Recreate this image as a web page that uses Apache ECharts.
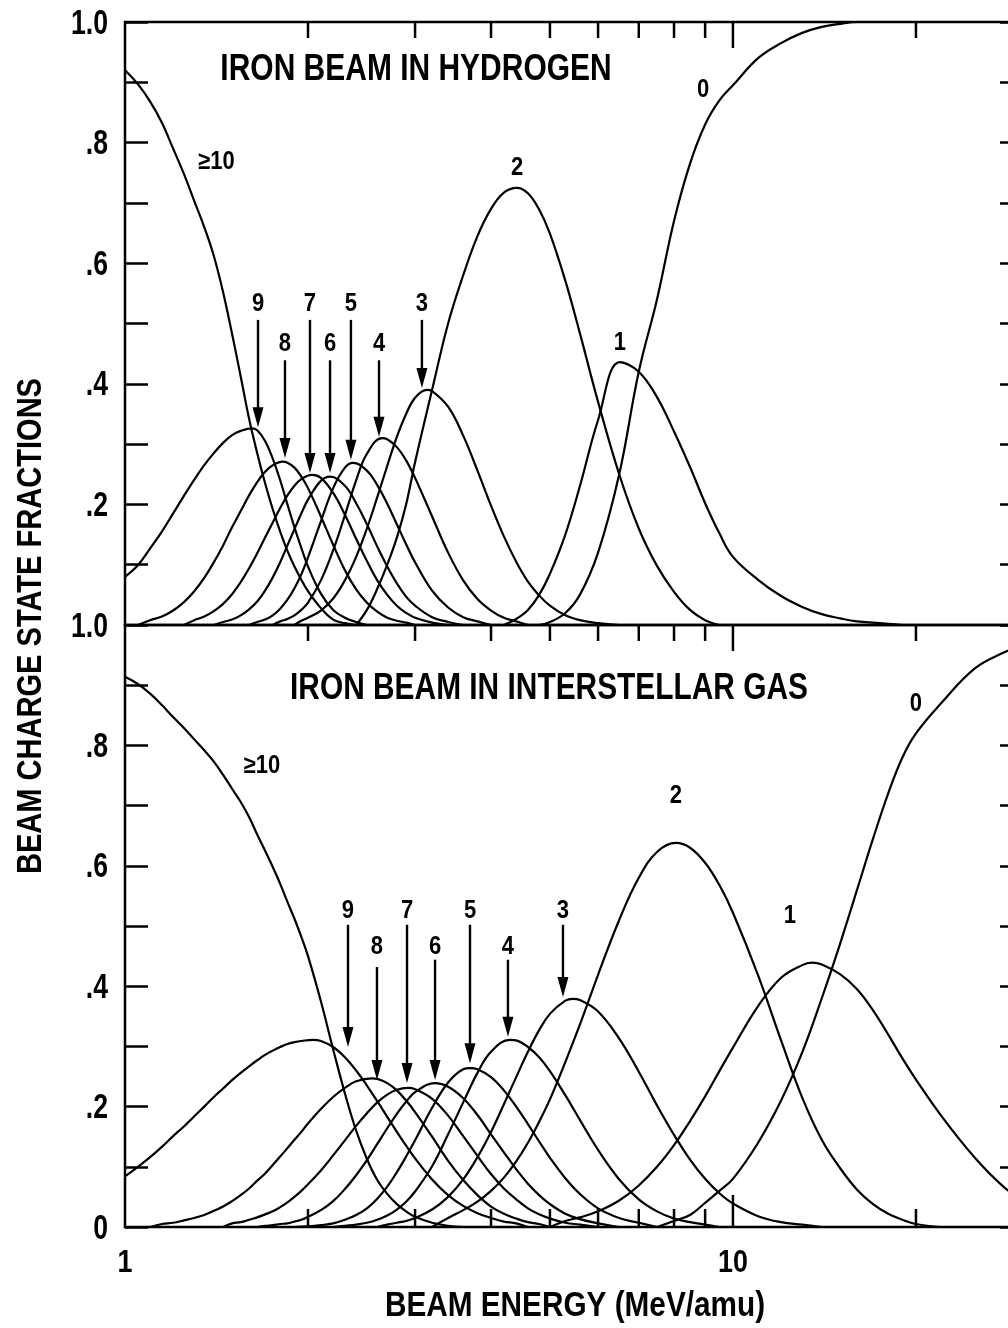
<!DOCTYPE html>
<html>
<head>
<meta charset="utf-8">
<script src="https://cdn.jsdelivr.net/npm/echarts@6/dist/echarts.min.js"></script>
<style>
  html, body { margin: 0; padding: 0; background: #fff; }
  #chart { width: 1008px; height: 1328px; }
</style>
</head>
<body>
<div id="chart"></div>
<script>
// Charge state fractions of an iron beam vs. beam energy (MeV/amu).
// Each curve: [energy, fraction] pairs.

// ---- Iron beam in hydrogen ----
const hydGe10 = [[1.0,.920],[1.05,.897],[1.1,.868],[1.15,.833],[1.2,.790],[1.25,.748],[1.3,.703],[1.35,.660],[1.4,.612],[1.45,.552],[1.5,.483],[1.55,.412],[1.6,.342],[1.65,.285],[1.7,.235],[1.75,.192],[1.8,.155],[1.85,.123],[1.9,.097],[1.95,.075],[2.0,.056],[2.1,.028],[2.2,.009],[2.3,.003],[2.4,0]];
const hyd9 = [[1.0,.080],[1.05,.099],[1.1,.127],[1.15,.155],[1.2,.185],[1.25,.214],[1.3,.241],[1.35,.265],[1.4,.285],[1.45,.302],[1.5,.315],[1.55,.322],[1.617,.326],[1.65,.323],[1.7,.305],[1.75,.276],[1.8,.240],[1.85,.200],[1.9,.162],[1.95,.128],[2.0,.097],[2.1,.052],[2.2,.025],[2.3,.012],[2.4,.005],[2.5,0]];
const hyd8 = [[1.05,0],[1.1,.008],[1.15,.014],[1.2,.024],[1.25,.038],[1.3,.056],[1.35,.078],[1.4,.104],[1.45,.132],[1.5,.162],[1.55,.189],[1.6,.215],[1.65,.237],[1.7,.254],[1.75,.265],[1.819,.271],[1.85,.269],[1.9,.261],[1.95,.246],[2.0,.227],[2.1,.180],[2.2,.133],[2.3,.091],[2.4,.059],[2.5,.037],[2.6,.022],[2.7,.012],[2.8,.007],[2.9,.004],[3.0,0]];
const hyd7 = [[1.25,0],[1.3,.008],[1.35,.014],[1.4,.023],[1.45,.035],[1.5,.051],[1.55,.071],[1.6,.094],[1.65,.119],[1.7,.145],[1.75,.170],[1.8,.194],[1.85,.215],[1.9,.231],[1.95,.242],[2.03,.249],[2.1,.244],[2.2,.219],[2.3,.183],[2.4,.143],[2.5,.106],[2.6,.074],[2.7,.050],[2.8,.032],[2.9,.020],[3.0,.012],[3.2,.004],[3.4,0]];
const hyd6 = [[1.4,0],[1.45,.005],[1.5,.009],[1.55,.016],[1.6,.026],[1.65,.039],[1.7,.057],[1.75,.079],[1.8,.104],[1.85,.132],[1.9,.159],[1.95,.185],[2.0,.208],[2.1,.239],[2.174,.246],[2.3,.231],[2.4,.202],[2.5,.167],[2.6,.130],[2.7,.097],[2.8,.069],[2.9,.047],[3.0,.032],[3.2,.013],[3.4,.005],[3.6,0]];
const hyd5 = [[1.6,0],[1.65,.005],[1.7,.009],[1.75,.016],[1.8,.027],[1.85,.042],[1.9,.061],[1.95,.084],[2.0,.112],[2.1,.172],[2.2,.227],[2.3,.261],[2.371,.269],[2.5,.256],[2.6,.232],[2.7,.201],[2.8,.167],[2.9,.134],[3.0,.104],[3.2,.057],[3.4,.029],[3.6,.013],[3.8,.006],[4.0,0]];
const hyd4 = [[1.75,0],[1.8,.006],[1.85,.010],[1.9,.016],[1.95,.025],[2.0,.037],[2.1,.074],[2.2,.124],[2.3,.182],[2.4,.240],[2.5,.284],[2.647,.310],[2.7,.308],[2.8,.295],[2.9,.273],[3.0,.244],[3.2,.180],[3.4,.120],[3.6,.074],[3.8,.043],[4.0,.024],[4.2,.012],[4.4,.006],[4.6,0]];
const hyd3 = [[1.9,0],[1.95,.007],[2.0,.012],[2.1,.024],[2.2,.044],[2.3,.074],[2.4,.113],[2.5,.160],[2.6,.212],[2.7,.264],[2.8,.312],[2.9,.350],[3.0,.377],[3.139,.390],[3.2,.388],[3.4,.362],[3.6,.314],[3.8,.256],[4.0,.198],[4.2,.147],[4.4,.105],[4.6,.072],[4.8,.049],[5.0,.032],[5.3,.016],[5.6,.008],[6.0,.003],[6.5,0]];
const hyd2 = [[2.4,0],[2.5,.025],[2.6,.06],[2.7,.10],[2.8,.145],[2.9,.20],[3.0,.27],[3.2,.39],[3.4,.50],[3.6,.58],[3.8,.645],[4.0,.69],[4.2,.717],[4.414,.725],[4.6,.716],[4.8,.689],[5.0,.649],[5.3,.571],[5.6,.484],[6.0,.370],[6.5,.250],[7.0,.160],[7.5,.098],[8.0,.055],[8.5,.025],[9.0,.008],[9.5,0]];
const hyd1 = [[4.2,0],[4.4,.01],[4.6,.025],[4.8,.05],[5.0,.085],[5.3,.15],[5.6,.23],[6.0,.34],[6.518,.436],[7.0,.420],[7.5,.378],[8.0,.321],[8.5,.262],[9.0,.202],[9.5,.152],[10,.113],[11,.075],[12,.048],[13,.030],[14,.018],[15,.011],[16,.006],[18,.002],[19,0]];
const hyd0 = [[4.8,0],[5.0,.005],[5.3,.02],[5.6,.05],[6.0,.12],[6.5,.25],[7.0,.42],[7.5,.54],[8.0,.67],[8.5,.765],[9.0,.83],[9.5,.87],[10,.895],[11,.94],[12,.965],[13,.982],[14,.992],[15,.997],[16,1.0],[30,1.0]];

// ---- Iron beam in interstellar gas ----
const isGe10 = [[1.0,.914],[1.05,.902],[1.1,.886],[1.15,.867],[1.2,.847],[1.25,.829],[1.3,.810],[1.35,.792],[1.4,.773],[1.45,.751],[1.5,.728],[1.55,.706],[1.6,.681],[1.65,.652],[1.7,.625],[1.75,.598],[1.8,.570],[1.85,.540],[1.9,.512],[1.95,.482],[2.0,.450],[2.1,.375],[2.2,.295],[2.3,.222],[2.4,.160],[2.5,.113],[2.6,.078],[2.7,.055],[2.8,.038],[2.9,.026],[3.0,.017],[3.2,.007],[3.4,.002],[3.6,0]];
const is9 = [[1.0,.084],[1.05,.100],[1.1,.116],[1.15,.133],[1.2,.151],[1.25,.167],[1.3,.184],[1.35,.200],[1.4,.216],[1.45,.230],[1.5,.244],[1.55,.256],[1.6,.267],[1.65,.277],[1.7,.286],[1.75,.293],[1.8,.299],[1.85,.304],[1.9,.307],[1.95,.309],[2.038,.311],[2.1,.309],[2.2,.299],[2.3,.282],[2.4,.260],[2.5,.235],[2.6,.209],[2.7,.183],[2.8,.158],[2.9,.135],[3.0,.114],[3.2,.079],[3.4,.053],[3.6,.035],[3.8,.023],[4.0,.015],[4.2,.009],[4.4,.006],[4.6,0]];
const is8 = [[1.1,0],[1.15,.005],[1.2,.007],[1.25,.011],[1.3,.015],[1.35,.020],[1.4,.027],[1.45,.034],[1.5,.043],[1.55,.053],[1.6,.064],[1.65,.077],[1.7,.089],[1.75,.103],[1.8,.117],[1.85,.131],[1.9,.145],[1.95,.158],[2.0,.172],[2.1,.196],[2.2,.216],[2.3,.231],[2.4,.242],[2.548,.247],[2.6,.246],[2.7,.239],[2.8,.227],[2.9,.210],[3.0,.191],[3.2,.150],[3.4,.110],[3.6,.078],[3.8,.053],[4.0,.034],[4.2,.022],[4.4,.014],[4.6,.008],[4.8,.005],[5.0,0]];
const is7 = [[1.45,0],[1.5,.006],[1.55,.008],[1.6,.012],[1.65,.016],[1.7,.021],[1.75,.026],[1.8,.033],[1.85,.041],[1.9,.050],[1.95,.060],[2.0,.071],[2.1,.094],[2.2,.119],[2.3,.144],[2.4,.168],[2.5,.189],[2.6,.207],[2.7,.220],[2.8,.228],[2.921,.231],[3.0,.229],[3.2,.213],[3.4,.185],[3.6,.151],[3.8,.118],[4.0,.088],[4.2,.064],[4.4,.046],[4.6,.031],[4.8,.021],[5.0,.014],[5.3,.007],[5.6,.004],[6.0,0]];
const is6 = [[1.65,0],[1.7,.002],[1.75,.003],[1.8,.005],[1.85,.006],[1.9,.009],[1.95,.012],[2.0,.017],[2.1,.028],[2.2,.043],[2.3,.063],[2.4,.086],[2.5,.111],[2.6,.138],[2.7,.164],[2.8,.188],[2.9,.208],[3.0,.224],[3.236,.239],[3.4,.233],[3.6,.214],[3.8,.186],[4.0,.154],[4.2,.124],[4.4,.096],[4.6,.072],[4.8,.053],[5.0,.038],[5.3,.022],[5.6,.013],[6.0,.006],[6.5,0]];
const is5 = [[1.9,0],[2.0,.001],[2.1,.003],[2.2,.006],[2.3,.012],[2.4,.020],[2.5,.031],[2.6,.047],[2.7,.067],[2.8,.091],[2.9,.117],[3.0,.144],[3.2,.198],[3.4,.240],[3.6,.262],[3.694,.264],[3.8,.262],[4.0,.249],[4.2,.227],[4.4,.200],[4.6,.171],[4.8,.142],[5.0,.115],[5.3,.081],[5.6,.055],[6.0,.031],[6.5,.015],[7.0,.007],[7.5,0]];
const is4 = [[2.2,0],[2.3,.002],[2.4,.004],[2.5,.007],[2.6,.012],[2.7,.019],[2.8,.029],[2.9,.042],[3.0,.059],[3.2,.101],[3.4,.154],[3.6,.207],[3.8,.256],[4.0,.291],[4.297,.311],[4.4,.310],[4.6,.299],[4.8,.282],[5.0,.259],[5.3,.219],[5.6,.178],[6.0,.128],[6.5,.079],[7.0,.046],[7.5,.026],[8.0,.014],[8.5,.008],[9.0,.004],[9.5,0]];
const is3 = [[2.6,0],[2.7,.004],[2.8,.007],[2.9,.010],[3.0,.015],[3.2,.029],[3.4,.050],[3.6,.079],[3.8,.116],[4.0,.158],[4.2,.204],[4.4,.249],[4.6,.291],[4.8,.327],[5.0,.354],[5.3,.376],[5.456,.379],[5.6,.377],[6.0,.358],[6.5,.313],[7.0,.258],[7.5,.202],[8.0,.153],[8.5,.112],[9.0,.080],[9.5,.056],[10,.039],[11,.018],[12,.008],[13,.004],[14,0]];
const is2 = [[3.2,0],[3.4,.015],[3.6,.028],[3.8,.042],[4.0,.060],[4.2,.082],[4.4,.109],[4.6,.140],[4.8,.175],[5.0,.212],[5.3,.274],[5.6,.336],[6.0,.419],[6.5,.510],[7.0,.580],[7.5,.623],[8.059,.638],[8.5,.630],[9.0,.605],[9.5,.568],[10,.522],[11,.418],[12,.310],[13,.215],[14,.145],[15,.098],[16,.062],[17,.038],[18,.022],[19,.012],[20,.005],[22,0]];
const is1 = [[5.0,0],[5.3,.010],[5.6,.016],[6.0,.026],[6.5,.044],[7.0,.069],[7.5,.100],[8.0,.136],[8.5,.176],[9.0,.217],[9.5,.259],[10,.298],[11,.367],[12,.414],[13,.435],[13.49,.439],[14,.436],[15,.420],[16,.395],[17,.360],[18,.320],[19,.280],[20,.245],[22,.185],[25,.115],[28,.065],[30,.045]];
const is0 = [[7.5,0],[8.0,.010],[8.5,.020],[9.0,.040],[9.5,.060],[10,.080],[11,.140],[12,.210],[13,.290],[14,.380],[15,.470],[16,.560],[17,.645],[18,.720],[19,.780],[20,.820],[22,.870],[25,.928],[28,.955],[30,.967]];

// Axis ticks and tick labels.
const energyTicks = [2, 3, 4, 5, 6, 7, 8, 9, 10, 20, 30];
const energyLabels = [1, 10];
const fractionLabelsTop = [0.2, 0.4, 0.6, 0.8, 1.0];
const fractionLabelsBottom = [0, 0.2, 0.4, 0.6, 0.8, 1.0];

// Charge-state labels and arrows, in data units (energy, fraction).
const hydNotes = [
  { t: '9', x: 1.655, ly: 0.534, y0: 0.506, y1: 0.328 },
  { t: '8', x: 1.833, ly: 0.468, y0: 0.439, y1: 0.277 },
  { t: '7', x: 2.015, ly: 0.534, y0: 0.506, y1: 0.252 },
  { t: '6', x: 2.174, ly: 0.468, y0: 0.439, y1: 0.252 },
  { t: '5', x: 2.353, ly: 0.534, y0: 0.506, y1: 0.274 },
  { t: '4', x: 2.617, ly: 0.468, y0: 0.439, y1: 0.312 },
  { t: '3', x: 3.079, ly: 0.534, y0: 0.506, y1: 0.393 },
  { t: '\u2265' + '10', x: 1.414, ly: 0.769 },
  { t: '0', x: 8.928, ly: 0.888 },
  { t: '2', x: 4.414, ly: 0.760 },
  { t: '1', x: 6.518, ly: 0.469 }
];
const isNotes = [
  { t: '9', x: 2.327, ly: 0.527, y0: 0.502, y1: 0.299 },
  { t: '8', x: 2.597, ly: 0.467, y0: 0.432, y1: 0.244 },
  { t: '7', x: 2.910, ly: 0.527, y0: 0.502, y1: 0.239 },
  { t: '6', x: 3.236, ly: 0.467, y0: 0.444, y1: 0.244 },
  { t: '5', x: 3.694, ly: 0.527, y0: 0.502, y1: 0.272 },
  { t: '4', x: 4.265, ly: 0.467, y0: 0.444, y1: 0.316 },
  { t: '3', x: 5.253, ly: 0.527, y0: 0.502, y1: 0.382 },
  { t: '\u2265' + '10', x: 1.680, ly: 0.768 },
  { t: '0', x: 20.0, ly: 0.870 },
  { t: '2', x: 8.059, ly: 0.718 },
  { t: '1', x: 12.41, ly: 0.518 }
];

const FONT = "'Liberation Sans', Arial, sans-serif";
const INK = '#000';

const panels = [
  { curves: [hydGe10, hyd9, hyd8, hyd7, hyd6, hyd5, hyd4, hyd3, hyd2, hyd1, hyd0], notes: hydNotes, yLabels: fractionLabelsTop },
  { curves: [isGe10, is9, is8, is7, is6, is5, is4, is3, is2, is1, is0], notes: isNotes, yLabels: fractionLabelsBottom }
];

const chart = echarts.init(document.getElementById('chart'), null, { renderer: 'canvas' });

function fractionText(v) {
  const k = Math.round(v * 10);
  if (k === 10) return '1.0';
  if (k === 0) return '0';
  return '.' + k;
}

// Condensed bold text: a regular bold face squeezed horizontally.
function squeezed(x, y, text, size, sx, align, valign) {
  return {
    type: 'text', x: x, y: y, scaleX: sx, scaleY: 1,
    style: { text: text, fill: INK, font: 'bold ' + size + 'px ' + FONT, align: align, verticalAlign: valign }
  };
}

const grids = [
  { left: 125, right: -15, top: 22, height: 603 },
  { left: 125, right: -15, top: 625, height: 602 }
].map(g => Object.assign(g, {
  show: true, borderColor: INK, borderWidth: 2.5, backgroundColor: 'transparent',
  containLabel: false, outerBoundsMode: 'none'
}));

const xAxes = [0, 1].map(g => ({
  type: 'log', logBase: 10, min: 1, max: 30, gridIndex: g,
  axisLine: { show: false }, axisTick: { show: false }, splitLine: { show: false },
  axisLabel: { show: false }
}));

const yAxes = [];
[0, 1].forEach(g => {
  const common = {
    type: 'value', min: 0, max: 1, interval: 0.1, gridIndex: g,
    axisLine: { show: false }, splitLine: { show: false }, axisLabel: { show: false },
    axisTick: { show: true, inside: true, length: 23, lineStyle: { color: INK, width: 2.5 } }
  };
  yAxes.push(Object.assign({}, common, { position: 'left' }));
  yAxes.push(Object.assign({}, common, { position: 'right' }));
});

const series = [];
panels.forEach((p, g) => {
  p.curves.forEach(d => {
    series.push({
      type: 'line', xAxisIndex: g, yAxisIndex: 2 * g, data: d,
      smooth: 0.4, symbol: 'none', silent: true, z: 3,
      lineStyle: { color: INK, width: 2.2 }
    });
  });
  // energy-axis tick marks on the frame edges
  series.push({
    type: 'custom', xAxisIndex: g, yAxisIndex: 2 * g, silent: true, z: 4, clip: false,
    data: energyTicks.map(v => [v, 0]),
    renderItem(params, api) {
      const v = api.value(0);
      const big = Math.abs(v - 10) < 1e-9;
      const t = api.coord([v, 1]);
      const b = api.coord([v, 0]);
      const st = { stroke: INK, lineWidth: 2.5 };
      const kids = [{ type: 'line', shape: { x1: t[0], y1: t[1], x2: t[0], y2: t[1] + (big ? 26 : 16) }, style: st }];
      if (g === 1) {
        kids.push({ type: 'line', shape: { x1: b[0], y1: b[1], x2: b[0], y2: b[1] - (big ? 32 : 18) }, style: st });
      }
      return { type: 'group', children: kids };
    }
  });
  // fraction tick labels
  series.push({
    type: 'custom', xAxisIndex: g, yAxisIndex: 2 * g, silent: true, z: 4, clip: false,
    data: p.yLabels.map(v => [1, v]),
    renderItem(params, api) {
      const v = api.value(1);
      const c = api.coord([1, v]);
      return squeezed(c[0] - 17, c[1] + 2, fractionText(v), 35, 0.76, 'right', 'middle');
    }
  });
  // energy tick labels (bottom panel only)
  if (g === 1) {
    series.push({
      type: 'custom', xAxisIndex: g, yAxisIndex: 2 * g, silent: true, z: 4, clip: false,
      data: energyLabels.map(v => [v, 0]),
      renderItem(params, api) {
        const v = api.value(0);
        const c = api.coord([v, 0]);
        return squeezed(c[0], c[1] + 36, String(v), 32, 0.84, 'center', 'middle');
      }
    });
  }
  // curve labels and arrows
  series.push({
    type: 'custom', xAxisIndex: g, yAxisIndex: 2 * g, silent: true, z: 5, clip: false,
    data: p.notes.map(n => [n.x, n.ly]),
    renderItem(params, api) {
      const n = p.notes[params.dataIndex];
      const c = api.coord([n.x, n.ly]);
      const kids = [squeezed(c[0], c[1] + 1, n.t, 25, 0.88, 'center', 'middle')];
      if (n.y0 !== undefined) {
        const a = api.coord([n.x, n.y0]);
        const b = api.coord([n.x, n.y1]);
        const hl = 20, hw = 5.5;
        kids.push({ type: 'line', shape: { x1: a[0], y1: a[1], x2: b[0], y2: b[1] - hl + 2 }, style: { stroke: INK, lineWidth: 2.4 } });
        kids.push({ type: 'polygon', shape: { points: [[b[0] - hw, b[1] - hl], [b[0] + hw, b[1] - hl], [b[0], b[1]]] }, style: { fill: INK } });
      }
      return { type: 'group', children: kids };
    }
  });
});

const titleTop = squeezed(416, 70, 'IRON BEAM IN HYDROGEN', 37, 0.81, 'center', 'middle');
const titleBottom = squeezed(549, 689, 'IRON BEAM IN INTERSTELLAR GAS', 36, 0.83, 'center', 'middle');
const xName = squeezed(575, 1306, 'BEAM ENERGY (MeV/amu)', 35, 0.85, 'center', 'middle');
const yName = squeezed(31, 626, 'BEAM CHARGE STATE FRACTIONS', 35, 0.83, 'center', 'middle');
yName.rotation = Math.PI / 2;
[titleTop, titleBottom, xName, yName].forEach(t => { t.silent = true; });

chart.setOption({
  animation: false,
  backgroundColor: '#fff',
  grid: grids,
  xAxis: xAxes,
  yAxis: yAxes,
  series: series,
  graphic: [titleTop, titleBottom, xName, yName]
});
</script>
</body>
</html>
